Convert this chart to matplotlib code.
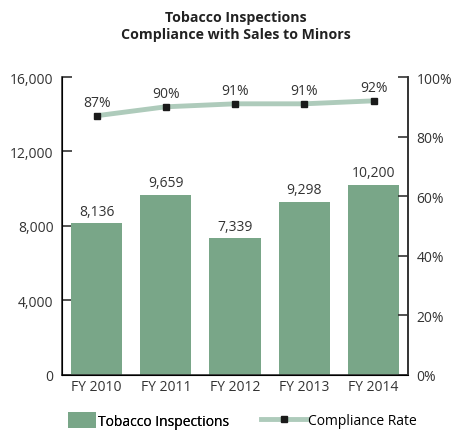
import matplotlib.pyplot as plt

# Data
years = ['FY 2010', 'FY 2011', 'FY 2012', 'FY 2013', 'FY 2014']
inspections = [8136, 9659, 7339, 9298, 10200]
compliance = [87, 90, 91, 91, 92]

plt.rcParams['font.family'] = ['Open Sans', 'DejaVu Sans']

bar_color = '#79a688'
line_color = '#aecbbb'
dark = '#333333'

fig = plt.figure(figsize=(4.56, 4.31), dpi=100)
ax = fig.add_axes([0.136, 0.128, 0.759, 0.691])
x = range(len(years))
bars = ax.bar(x, inspections, width=0.74, color=bar_color, label='Tobacco Inspections', zorder=2)
for i, v in enumerate(inspections):
    ax.text(i, v + 250, f'{v:,}', ha='center', va='bottom', fontsize=10, color=dark)

ax.set_xlim(-0.5, 4.5)
ax.set_ylim(0, 16000)
ax.set_yticks([0, 4000, 8000, 12000, 16000])
ax.set_yticklabels(['0', '4,000', '8,000', '12,000', '16,000'])
ax.set_xticks(list(x))
ax.set_xticklabels(years)
ax.tick_params(axis='y', direction='in', length=7, width=1.2, colors=dark, labelsize=10, pad=6)
ax.tick_params(axis='x', length=0, labelsize=10, colors=dark, pad=3)
ax.spines['top'].set_visible(False)
for s in ['left', 'right', 'bottom']:
    ax.spines[s].set_color(dark)
    ax.spines[s].set_linewidth(1.2)

ax2 = ax.twinx()
ax2.set_ylim(0, 100)
ax2.set_yticks([0, 20, 40, 60, 80, 100])
ax2.set_yticklabels([f'{v}%' for v in [0, 20, 40, 60, 80, 100]])
ax2.tick_params(axis='y', direction='in', length=7, width=1.2, colors=dark, labelsize=10, pad=6)
ax2.spines['top'].set_visible(False)
ax2.spines['right'].set_color(dark)
ax2.spines['right'].set_linewidth(1.2)
ln, = ax2.plot(list(x), compliance, color=line_color, linewidth=3.5, marker='s', markersize=5,
               markerfacecolor='#1a1a1a', markeredgecolor='#1a1a1a', label='Compliance Rate', zorder=3)
for i, v in enumerate(compliance):
    ax2.text(i, v + 2.0, f'{v}%', ha='center', va='bottom', fontsize=10, color=dark)

fig.text(0.518, 0.975, 'Tobacco Inspections\nCompliance with Sales to Minors', ha='center', va='top',
         fontsize=10.2, fontweight='bold', color='#222222', linespacing=1.3)

# two separate legends so each handle gets its own width
leg1 = fig.legend([bars], ['Tobacco Inspections'], loc='center left',
                  bbox_to_anchor=(0.150, 0.022), frameon=False, fontsize=10,
                  handlelength=2.0, handleheight=1.3, handletextpad=0.1, borderpad=0, borderaxespad=0)
leg2 = fig.legend([ln], ['Compliance Rate'], loc='center left',
                  bbox_to_anchor=(0.572, 0.022), frameon=False, fontsize=10,
                  handlelength=3.3, handletextpad=0.1, borderpad=0, borderaxespad=0)
fig.add_artist(leg1)

fig.savefig('out.png', dpi=100)
